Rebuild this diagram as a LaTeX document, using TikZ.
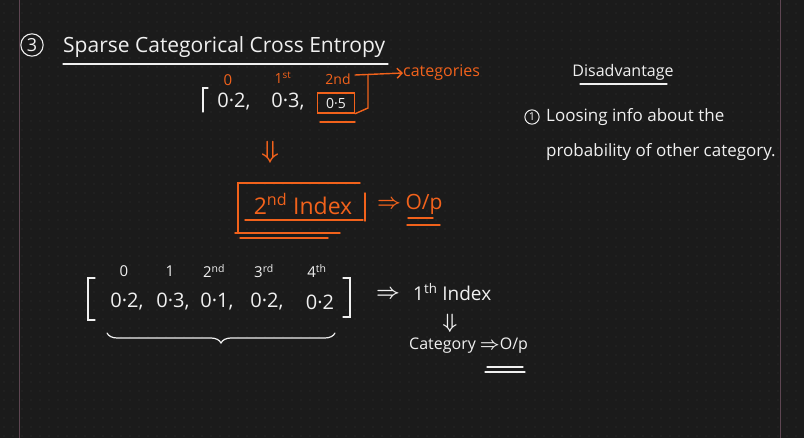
\documentclass[tikz,border=0pt]{standalone}
\usepackage{fontspec}
\setmainfont{Open Sans}
\usepackage{amsmath,amssymb}
\usetikzlibrary{arrows.meta,positioning,calc,decorations.pathreplacing}
\definecolor{board}{HTML}{1B1B1B}
\definecolor{gridtone}{HTML}{343434}
\definecolor{marginline}{HTML}{5E4652}
\definecolor{ink}{HTML}{F0F0F0}
\definecolor{pen}{HTML}{F2621B}
\newcommand{\fsz}[1]{\fontsize{#1}{#1}\selectfont}
\newcommand{\imp}{$\boldsymbol{\Rightarrow}$}

\begin{document}
\begin{tikzpicture}[x=1pt,y=-1pt,
    txt/.style={text=ink,inner sep=0pt,font=\fsz{17}},
    otxt/.style={text=pen,inner sep=0pt,font=\fsz{15}},
    stroke/.style={draw=ink,line width=1.2pt,line cap=round},
    ostroke/.style={draw=pen,line width=1.4pt,line cap=round}]

        % Board and dot grid
        \fill[board] (0,0) rectangle (804,438);
        \useasboundingbox (0,0) rectangle (804,438);
        \foreach \i in {0,...,89}
          \foreach \j in {0,...,48}
            \fill[gridtone] (4+9*\i,4+9*\j) circle (0.6);
        \draw[marginline,line width=1pt] (19,0) -- (19,438);
        \draw[marginline,line width=1pt] (780,0) -- (780,438);

        % Heading
        \node[txt,circle,draw=ink,line width=1.1pt,inner sep=2pt,font=\fsz{18}] (num3) at (32,45) {3};
        \node[txt,anchor=base west,font=\fsz{21}] (title) at (63,53) {Sparse Categorical Cross Entropy};
        \draw[stroke] (63,64) -- (388,64);

        % First vector
        \draw[stroke] (208,88) -- (203,88) -- (203,112);
        \node[txt,font=\fsz{20}] (a0) at (234,102) {0·2,};
        \node[txt,font=\fsz{20}] (a1) at (288,102) {0·3,};
        \node[txt,font=\fsz{14},draw=pen,line width=1.4pt,minimum width=37,minimum height=20] (pick) at (336,103) {0·5};
        \draw[ostroke] (320,122) -- (355,122);
        \node[otxt,font=\fsz{15}] (i0) at (228,80) {0};
        \node[otxt,font=\fsz{14}] (i1) at (283,78) {1\textsuperscript{st}};
        \node[otxt,font=\fsz{14}] (i2) at (338,79) {2nd};

        % Pointer to categories
        \node[otxt,anchor=west,font=\fsz{16}] (cats) at (403,73) {categories};
        \coordinate (elbow) at (368,75);
        \draw[ostroke] (pick.south east) -- (368,108) -- (elbow);
        \draw[ostroke,-{Straight Barb[length=5pt]}] (355,75) -- (cats.west);

        % Result
        \node[otxt,font=\fsz{30}] (down1) at (270,152) {$\boldsymbol{\Downarrow}$};
        \node[otxt,font=\fsz{23}] (idx2) at (303,204) {2\textsuperscript{nd} Index};
        \draw[ostroke] (238,233) -- (238,183) -- (360,183);
        \draw[ostroke] (365,193) -- (365,221);
        \draw[ostroke] (245,220) -- (363,220);
        \draw[ostroke] (235,233) -- (340,233);
        \draw[ostroke] (240,238) -- (328,238);
        \node[otxt,font=\fsz{22}] (imp1) at (389,204) {\imp};
        \node[otxt,font=\fsz{21}] (out1) at (424,204) {O/p};
        \draw[ostroke] (408,218) -- (433,218);
        \draw[ostroke] (407,225) -- (440,225);

        % Second vector
        \draw[stroke] (95,278) -- (88,278) -- (88,320) -- (95,320);
        \draw[stroke] (343,278) -- (350,278) -- (350,317) -- (343,317);
        \foreach \x/\v/\k/\lab in {124/{0·2,}/b0/0, 170/{0·3,}/b1/1, 214/{0·1,}/b2/{2\textsuperscript{nd}},
                                  264/{0·2,}/b3/{3\textsuperscript{rd}}, 317/{0·2}/b4/{4\textsuperscript{th}}}{
          \node[txt,font=\fsz{20}] (\k) at (\x+3,302) {\v};
          \node[txt,font=\fsz{15}] (\k top) at (\x,271) {\lab};
        }
        \draw[stroke,decorate,decoration={brace,mirror,amplitude=10pt}] (107,333) -- (335,333);

        % Index to output
        \node[txt,font=\fsz{22}] (imp2) at (388,294) {\imp};
        \node[txt,anchor=west,font=\fsz{19}] (first) at (413,292) {1\textsuperscript{th} Index};
        \node[txt,font=\fsz{20}] (down2) at (450,323) {$\boldsymbol{\Downarrow}$};
        \node[txt,anchor=west,font=\fsz{16}] (catout) at (409,346) {Category \imp O/p};
        \draw[stroke] (487,367) -- (523,367);
        \draw[stroke] (485,372) -- (525,372);

        % Disadvantage
        \node[txt,font=\fsz{16}] (dis) at (623,72) {Disadvantage};
        \draw[stroke] (580,84) -- (667,84);
        \node[txt,circle,draw=ink,line width=1pt,inner sep=1.5pt,font=\fsz{11}] (num1) at (532,117) {1};
        \node[txt,anchor=west] (loss1) at (546,117) {Loosing info about the};
        \node[txt,anchor=west] (loss2) at (546,152) {probability of other category.};
\end{tikzpicture}
\end{document}
